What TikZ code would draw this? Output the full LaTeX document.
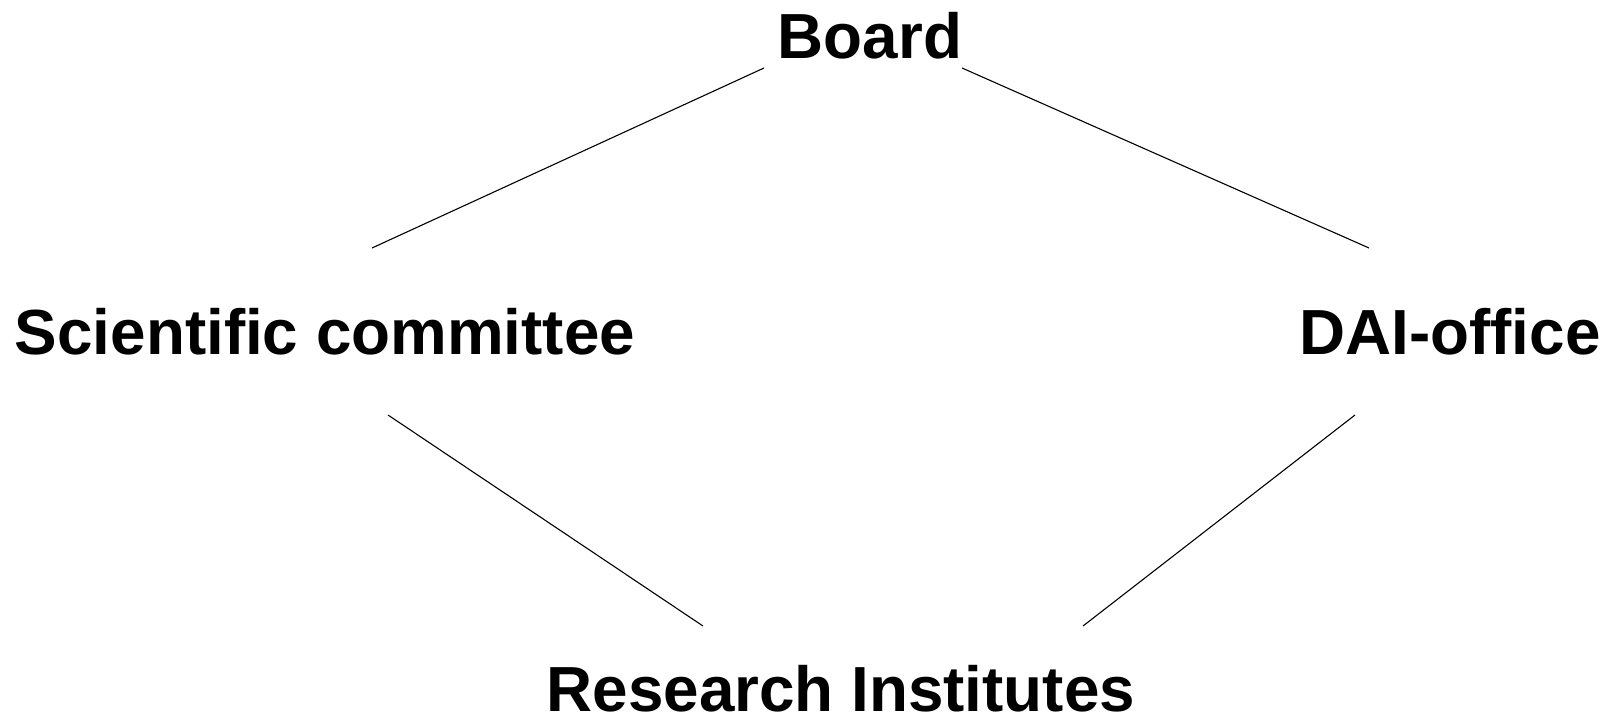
\documentclass[tikz,border=0pt]{standalone}
\usepackage{fontspec}
\setmainfont{Liberation Sans}
\begin{document}
\begin{tikzpicture}[x=1bp,y=-1bp,
  lbl/.style={anchor=base,inner sep=0pt,font=\fontsize{64}{76}\selectfont\bfseries},
  link/.style={line width=1.1bp,black}]
\useasboundingbox (0,0) rectangle (1608,717);
\node[lbl] (board) at (870,59) {Board};
\node[lbl] (sci) at (325,354) {Scientific committee};
\node[lbl] (dai) at (1450,354) {DAI-office};
\node[lbl] (ri) at (841,711) {Research Institutes};
\coordinate (b1) at (764,68);
\coordinate (s1) at (372,248);
\coordinate (b2) at (962,68);
\coordinate (d1) at (1369,248);
\coordinate (s2) at (388,415);
\coordinate (r1) at (703,626);
\coordinate (d2) at (1355,415);
\coordinate (r2) at (1083,626);
\draw[link] (b1) -- (s1);
\draw[link] (b2) -- (d1);
\draw[link] (s2) -- (r1);
\draw[link] (d2) -- (r2);
\end{tikzpicture}
\end{document}
